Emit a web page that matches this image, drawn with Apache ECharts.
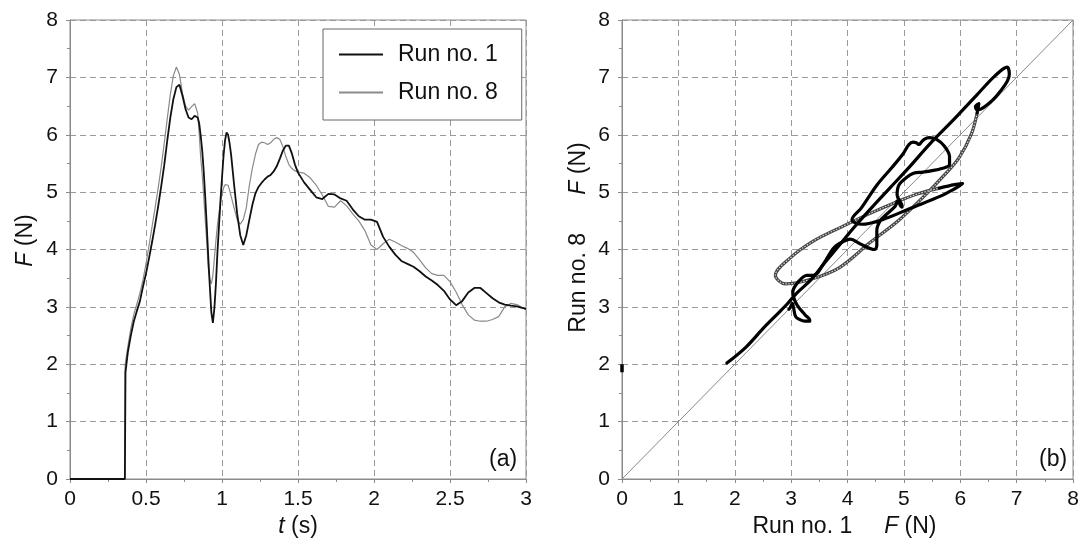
<!DOCTYPE html>
<html><head><meta charset="utf-8">
<script src="https://cdn.jsdelivr.net/npm/echarts@6/dist/echarts.min.js"></script>
<style>html,body{margin:0;padding:0;background:#fff}#c{width:1088px;height:544px}</style>
</head><body><div id="c"></div>
<script>
// time (s)
const time = [0,0.361,0.362,0.363,0.365,0.38,0.40,0.42,0.44,0.46,0.48,0.50,0.52,0.54,0.56,0.58,0.60,0.62,0.64,0.66,0.68,0.70,0.72,0.74,0.76,0.78,0.80,0.82,0.84,
0.85,0.86,0.87,0.88,0.89,0.90,0.91,0.92,0.93,0.94,0.95,0.96,0.97,0.98,0.99,1.00,1.01,1.02,1.03,1.04,1.05,1.06,
1.08,1.10,1.12,1.14,1.16,1.18,1.20,1.22,1.24,1.26,1.28,1.30,1.32,1.34,1.36,1.38,1.40,1.42,1.44,1.46,1.48,1.50,
1.54,1.58,1.62,1.66,1.70,1.74,1.78,1.82,1.86,1.90,1.94,1.98,2.02,2.06,2.10,2.14,2.18,2.22,2.26,2.30,2.34,2.38,2.42,2.46,
2.50,2.54,2.58,2.62,2.66,2.70,2.74,2.78,2.82,2.86,2.90,2.94,2.98,3.00];
// Run no. 1, F (N)
const run1 = [0,0,0,0,1.86,2.2,2.5,2.75,2.93,3.1,3.35,3.58,3.85,4.13,4.43,4.75,5.1,5.47,5.9,6.3,6.62,6.83,6.87,6.68,6.45,6.30,6.27,6.33,6.30,
6.20,5.98,5.72,5.35,4.90,4.40,3.85,3.35,2.90,2.72,2.98,3.40,3.95,4.40,4.85,5.25,5.63,5.90,6.04,6.00,5.85,5.65,
5.12,4.62,4.25,4.08,4.25,4.52,4.78,4.98,5.09,5.16,5.22,5.27,5.30,5.36,5.45,5.58,5.72,5.81,5.81,5.67,5.48,5.34,
5.17,5.04,4.91,4.88,4.97,4.96,4.89,4.85,4.70,4.58,4.52,4.52,4.48,4.22,4.05,3.91,3.80,3.75,3.70,3.62,3.53,3.46,3.38,3.28,
3.13,3.03,3.10,3.25,3.33,3.33,3.24,3.15,3.08,3.04,3.02,3.01,2.98,2.96];
// Run no. 8, F (N)
const run8 = [0,0,1.86,2.0,2.02,2.3,2.62,2.87,3.05,3.24,3.47,3.75,4.07,4.40,4.73,5.07,5.44,5.85,6.28,6.7,7.03,7.18,7.05,6.72,6.50,6.43,6.49,6.54,6.38,
6.02,5.60,5.30,4.92,4.50,4.12,3.68,3.48,3.40,3.55,3.85,4.15,4.42,4.63,4.82,4.97,5.07,5.13,5.15,5.12,5.03,4.93,
4.72,4.52,4.44,4.52,4.73,5.12,5.42,5.66,5.83,5.87,5.86,5.83,5.86,5.92,5.95,5.92,5.80,5.62,5.48,5.41,5.37,5.35,
5.33,5.25,5.12,4.95,4.75,4.74,4.85,4.76,4.62,4.50,4.33,4.08,4.00,4.10,4.18,4.13,4.07,4.02,3.95,3.82,3.68,3.58,3.55,3.55,
3.44,3.26,3.04,2.86,2.77,2.75,2.75,2.78,2.83,3.00,3.06,3.04,2.98,2.96];
const tTicks = [0,0.5,1,1.5,2,2.5,3];
const fTicks = [0,1,2,3,4,5,6,7,8];
const panelLabels = ['(a)','(b)'];

const FONT = '"Liberation Sans", Arial, Helvetica, sans-serif';
const fastFrom = 0.84, fastTo = 1.01;

const leftData1 = time.map((t,i)=>[t,run1[i]]);
const leftData8 = time.map((t,i)=>[t,run8[i]]);
const pairs = time.map((t,i)=>[run1[i],run8[i],t]);
const markPts = pairs.filter(p=>p[0]===0 && p[1]>0);
const slowA = pairs.filter(p=>p[0]>0 && p[2]<=fastFrom);
const fast = pairs.filter(p=>p[2]>=fastFrom && p[2]<=fastTo);
const slowB = pairs.filter(p=>p[2]>=fastTo);

const gridLine = {show:true, lineStyle:{color:'#9a9a9a', type:[6,4], width:1}};
const axLine = {show:true, lineStyle:{color:'#8a8a8a', width:1}};
const tick = {show:true, inside:false, length:4, lineStyle:{color:'#8a8a8a'}};
const minor = {show:true, splitNumber:2, length:3, lineStyle:{color:'#8a8a8a'}};
const lbl = {color:'#111', fontSize:21, fontFamily:FONT};
const NS = 23;
const rich = {i:{fontStyle:'italic', fontSize:NS, fontFamily:FONT, color:'#111'}, n:{fontSize:NS, fontFamily:FONT, color:'#111'}};
const nameStyle = {color:'#111', fontSize:NS, fontFamily:FONT, rich:rich};

const chart = echarts.init(document.getElementById('c'), null, {renderer:'canvas'});
chart.setOption({
  backgroundColor:'#fff',
  animation:false,
  grid:[
    {left:70, top:20, width:456, height:459, show:true, borderColor:'#8a8a8a', borderWidth:1, backgroundColor:'transparent'},
    {left:622, top:20, width:451, height:459, show:true, borderColor:'#8a8a8a', borderWidth:1, backgroundColor:'transparent'}
  ],
  legend:{
    left:323, top:29, orient:'vertical', itemGap:15,
    data:[{name:'Run no. 1', itemStyle:{color:'#111'}},{name:'Run no. 8', itemStyle:{color:'#8a8a8a'}}],
    icon:'rect', itemWidth:44, itemHeight:2,
    padding:[14,24,16,16],
    borderColor:'#666', borderWidth:1, backgroundColor:'#fff',
    textStyle:{fontSize:NS, fontFamily:FONT, color:'#111', padding:[0,0,0,10]}
  },
  xAxis:[
    {gridIndex:0, type:'value', min:tTicks[0], max:tTicks[tTicks.length-1], interval:0.5,
     name:'{i|t} (s)', nameLocation:'middle', nameGap:33, nameTextStyle:nameStyle,
     axisLine:axLine, axisTick:tick, minorTick:minor, splitLine:gridLine,
     axisLabel:{...lbl, margin:10, formatter:v=>String(v)}},
    {gridIndex:1, type:'value', min:fTicks[0], max:fTicks[fTicks.length-1], interval:1,
     name:'{n|Run no. 1}     {i|F} (N)', nameLocation:'middle', nameGap:33, nameTextStyle:{...nameStyle, padding:[0,0,0,-6]},
     axisLine:axLine, axisTick:tick, minorTick:minor, splitLine:gridLine,
     axisLabel:{...lbl, margin:10}}
  ],
  yAxis:[
    {gridIndex:0, type:'value', min:fTicks[0], max:fTicks[fTicks.length-1], interval:1,
     name:'{i|F} (N)', nameLocation:'middle', nameGap:33, nameTextStyle:{...nameStyle, padding:[0,0,0,18]},
     axisLine:axLine, axisTick:tick, minorTick:minor, splitLine:gridLine,
     axisLabel:{...lbl, margin:12}},
    {gridIndex:1, type:'value', min:fTicks[0], max:fTicks[fTicks.length-1], interval:1,
     name:'{n|Run no. 8}      {i|F} (N)', nameLocation:'middle', nameGap:32, nameTextStyle:{...nameStyle, padding:[0,0,0,24]},
     axisLine:axLine, axisTick:tick, minorTick:minor, splitLine:gridLine,
     axisLabel:{...lbl, margin:12}}
  ],
  graphic:[
    {type:'text', left:489, top:448, style:{text:panelLabels[0], fontSize:NS, fontFamily:FONT, fill:'#111'}},
    {type:'text', left:1039, top:448, style:{text:panelLabels[1], fontSize:NS, fontFamily:FONT, fill:'#111'}}
  ],
  series:[
    {name:'Run no. 8', type:'line', xAxisIndex:0, yAxisIndex:0, data:leftData8, showSymbol:false, symbol:'none',
     lineStyle:{color:'#8a8a8a', width:1.2}, itemStyle:{color:'#8a8a8a'}, z:2},
    {name:'Run no. 1', type:'line', xAxisIndex:0, yAxisIndex:0, data:leftData1, showSymbol:false, symbol:'none',
     lineStyle:{color:'#111', width:1.8}, itemStyle:{color:'#111'}, z:3},
    {name:'diag', type:'line', xAxisIndex:1, yAxisIndex:1, data:[[0,0],[8,8]], showSymbol:false, symbol:'none',
     lineStyle:{color:'#888', width:1}, z:2},
    {name:'fastOuter', type:'line', xAxisIndex:1, yAxisIndex:1, data:fast, showSymbol:false, symbol:'none', smooth:0.35,
     lineStyle:{color:'#444', width:3.2}, z:3},
    {name:'fastInner', type:'line', xAxisIndex:1, yAxisIndex:1, data:fast, showSymbol:false, symbol:'none', smooth:0.35,
     lineStyle:{color:'#d8d8d8', width:1.2, type:[1.5,1.5]}, z:4},
    {name:'slowA', type:'line', xAxisIndex:1, yAxisIndex:1, data:slowA, showSymbol:false, symbol:'none', smooth:0.35,
     lineStyle:{color:'#000', width:3.2, join:'round', cap:'round'}, z:5},
    {name:'slowB', type:'line', xAxisIndex:1, yAxisIndex:1, data:slowB, showSymbol:false, symbol:'none', smooth:0.35,
     lineStyle:{color:'#000', width:3.2, join:'round', cap:'round'}, z:5},
    {name:'mark', type:'line', xAxisIndex:1, yAxisIndex:1, data:markPts, showSymbol:false, symbol:'none',
     lineStyle:{color:'#000', width:3.5}, z:5}
  ]
});
</script></body></html>
